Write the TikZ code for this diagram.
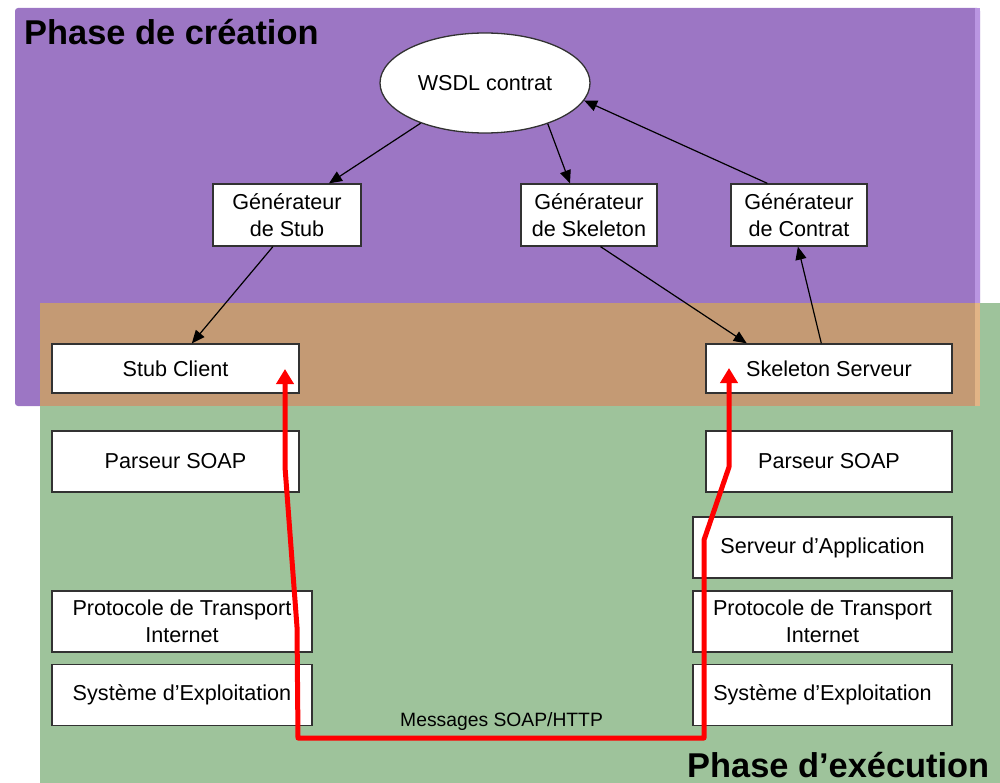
\documentclass[tikz,border=0pt]{standalone}
\usepackage{fontspec}
\setmainfont{Liberation Sans}
\usetikzlibrary{arrows.meta,shapes.geometric}

\definecolor{creation}{RGB}{156,118,196}
\definecolor{creationedge}{RGB}{186,150,226}
\definecolor{execution}{RGB}{158,195,155}
\definecolor{overlap}{RGB}{196,154,116}
\definecolor{overlapedge}{RGB}{226,180,134}
\definecolor{boxline}{RGB}{50,50,50}

\tikzset{
  layer/.style={draw=boxline, line width=1.3pt, fill=white, inner sep=0pt,
    align=center, font=\fontsize{21.6}{26.5}\selectfont},
  genbox/.style={layer, minimum width=#1, minimum height=62pt},
  stackbox/.style={layer, minimum width=#1, minimum height=61pt},
  flow/.style={-{Triangle[length=13pt,width=11pt]}, line width=1.2pt, black},
  soap/.style={{Triangle[length=15pt,width=17pt]}-{Triangle[length=15pt,width=17pt]},
    line width=5pt, red, line join=round},
  phase/.style={font=\fontsize{34.4}{38}\selectfont\bfseries, inner sep=0pt}
}

\begin{document}
\begin{tikzpicture}[x=1pt, y=-1pt]
  \useasboundingbox (0,0) rectangle (1000,783);

  % phase areas
  \fill[creation, rounded corners=3pt] (15,8) rectangle (980,406);
  \fill[execution] (40,303) rectangle (1000,783);
  \fill[overlap] (40,303) rectangle (980,406);
  \fill[creationedge] (975,8) rectangle (980,303);
  \fill[overlapedge] (975,303) rectangle (980,406);

  \node[phase, anchor=base west] (tcreation) at (24,45) {Phase de création};
  \node[phase, anchor=base west] (texecution) at (687,777) {Phase d’exécution};

  % creation phase
  \node[ellipse, draw=boxline, line width=1.3pt, fill=white, inner sep=0pt,
        minimum width=210pt, minimum height=100pt,
        font=\fontsize{21.6}{26.5}\selectfont] (wsdl) at (485,83) {WSDL contrat};
  \node[genbox=148pt] (genstub) at (287,215) {Générateur\\de Stub};
  \node[genbox=136pt] (genskel) at (589,215) {Générateur\\de Skeleton};
  \node[genbox=136pt] (gencontrat) at (799,215) {Générateur\\de Contrat};

  % client stack
  \node[stackbox=247pt, minimum height=49pt] (stubclient) at (175.5,368.5) {Stub Client};
  \node[stackbox=247pt] (cparser) at (175.5,461.5) {Parseur SOAP};
  \node[stackbox=260pt] (ctransport) at (182,621.5) {Protocole de Transport\\Internet};
  \node[stackbox=260pt] (cos) at (182,695) {Système d’Exploitation};

  % server stack
  \node[stackbox=246pt, minimum height=49pt] (skelserv) at (829,368.5) {Skeleton Serveur};
  \node[stackbox=246pt] (sparser) at (829,461.5) {Parseur SOAP};
  \node[stackbox=259pt] (sappli) at (822.5,547.5) {Serveur d’Application};
  \node[stackbox=259pt] (stransport) at (822.5,621.5) {Protocole de Transport\\Internet};
  \node[stackbox=259pt] (sos) at (822.5,695) {Système d’Exploitation};

  % generation flows
  \draw[flow] (wsdl.212) -- (genstub.37);
  \draw[flow] (genstub.246) -- (stubclient.57);
  \draw[flow] (wsdl.327) -- (genskel.121);
  \draw[flow] (genskel.290) -- (skelserv.163);
  \draw[flow] (skelserv.107) -- (gencontrat.268);
  \draw[flow] (gencontrat.135) -- (wsdl.350);

  % SOAP message path
  \coordinate (ctip) at (285,369);
  \coordinate (stip) at (729,368);
  \coordinate (c1) at (285,467);
  \coordinate (c2) at (297,627);
  \coordinate (c3) at (298,738);
  \coordinate (s3) at (704,738);
  \coordinate (s2) at (704,540);
  \coordinate (s1) at (729,467);
  \draw[soap] (ctip) -- (c1) -- (c2) -- (c3) -- (s3) -- (s2) -- (s1) -- (stip);

  \node[anchor=base west, inner sep=0pt, font=\fontsize{19.3}{23}\selectfont]
    (msg) at (400,726) {Messages SOAP/HTTP};
\end{tikzpicture}
\end{document}
